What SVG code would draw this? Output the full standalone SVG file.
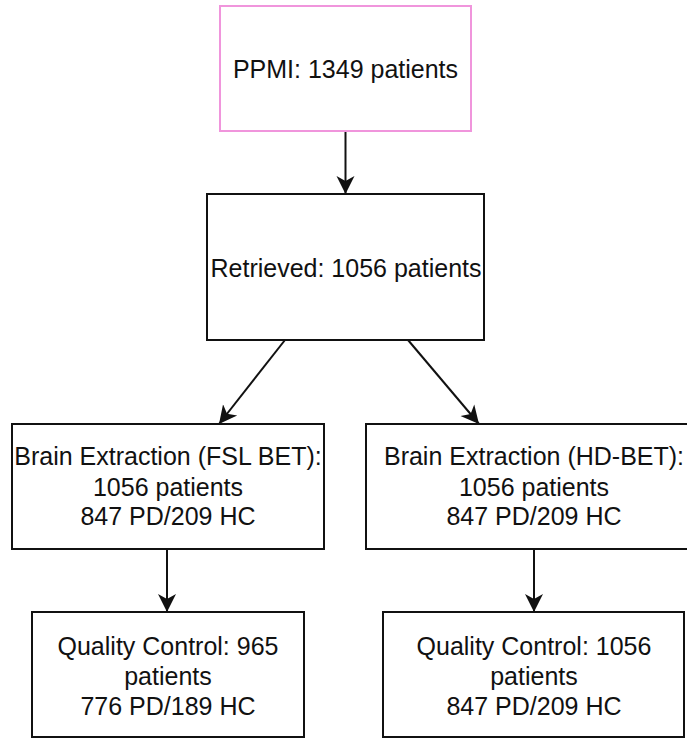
<svg xmlns="http://www.w3.org/2000/svg" width="687" height="738" viewBox="0 0 687 738">
  <style>
    .box { fill: #ffffff; stroke: #111111; stroke-width: 2; }
    .pink { stroke: #f095dc; }
    .label { font-family: "Liberation Sans", Arial, Helvetica, sans-serif; font-size: 25px; fill: #111111; text-anchor: middle; }
    .edge { fill: none; stroke: #111111; stroke-width: 2; marker-end: url(#arrow); }
  </style>
  <defs>
    <marker id="arrow" markerUnits="userSpaceOnUse" markerWidth="20" markerHeight="20" viewBox="0 0 20 20" refX="18" refY="10" orient="auto">
      <path d="M0,1 L18,10 L0,19 L5,10 Z" fill="#111111"/>
    </marker>
  </defs>
  <rect width="687" height="738" fill="#ffffff"/>

  <g id="connectors">
    <line class="edge" x1="345.5" y1="131" x2="345.5" y2="194"/>
    <line class="edge" x1="285" y1="340" x2="219" y2="424"/>
    <line class="edge" x1="408" y1="340" x2="479" y2="424"/>
    <line class="edge" x1="167" y1="549" x2="167" y2="612"/>
    <line class="edge" x1="534" y1="549" x2="534" y2="612"/>
  </g>

  <g id="ppmi">
    <rect class="box pink" x="220" y="6" width="251" height="125"/>
    <text class="label" x="345.5" y="78">PPMI: 1349 patients</text>
  </g>

  <g id="retrieved">
    <rect class="box" x="207" y="194" width="277" height="146"/>
    <text class="label" x="346" y="277">Retrieved: 1056 patients</text>
  </g>

  <g id="fsl-bet">
    <rect class="box" x="12" y="424" width="312" height="125"/>
    <text class="label" x="168" y="465">Brain Extraction (FSL BET):</text>
    <text class="label" x="168" y="496">1056 patients</text>
    <text class="label" x="168" y="525">847 PD/209 HC</text>
  </g>

  <g id="hd-bet">
    <rect class="box" x="366" y="424" width="340" height="125"/>
    <text class="label" x="534" y="465">Brain Extraction (HD-BET):</text>
    <text class="label" x="534" y="496">1056 patients</text>
    <text class="label" x="534" y="525">847 PD/209 HC</text>
  </g>

  <g id="qc-fsl">
    <rect class="box" x="32" y="612" width="272" height="125"/>
    <text class="label" x="168" y="655">Quality Control: 965</text>
    <text class="label" x="168" y="685">patients</text>
    <text class="label" x="168" y="715">776 PD/189 HC</text>
  </g>

  <g id="qc-hd">
    <rect class="box" x="383" y="612" width="301" height="125"/>
    <text class="label" x="534" y="655">Quality Control: 1056</text>
    <text class="label" x="534" y="685">patients</text>
    <text class="label" x="534" y="715">847 PD/209 HC</text>
  </g>
</svg>
